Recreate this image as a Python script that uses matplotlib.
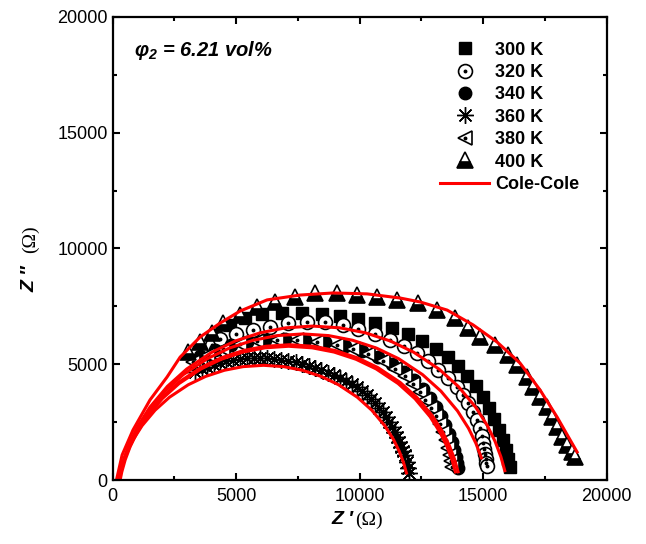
import matplotlib
matplotlib.use('agg')
import matplotlib.pyplot as plt
from matplotlib.legend_handler import HandlerTuple

plt.rcParams['font.family'] = ['Liberation Sans', 'DejaVu Sans']
plt.rcParams['mathtext.fontset'] = 'custom'
plt.rcParams['mathtext.bf'] = 'Liberation Sans:bold:italic'

# measured Z' / Z'' (ohm)
x300 = [4140, 4750, 5360, 6050, 6860, 7670, 8480, 9210, 9930, 10620, 11310, 11960, 12530,
        13090, 13580, 13980, 14350, 14710, 15000, 15240, 15440, 15650, 15810, 15930, 16010, 16090]
y300 = [6260, 6700, 7000, 7170, 7210, 7210, 7170, 7080, 6960, 6780, 6570, 6310, 6000,
        5660, 5310, 4920, 4490, 4060, 3590, 3110, 2640, 2160, 1730, 1300, 910, 560]

x320 = [4020, 4350, 4990, 5680, 6370, 7100, 7870, 8600, 9330, 9930, 10620, 11230, 11800, 12320,
        12770, 13180, 13580, 13940, 14190, 14390, 14590, 14760, 14880, 14960, 15000, 15040,
        15080, 15120, 15120, 15160]
y320 = [5830, 6090, 6310, 6480, 6610, 6780, 6830, 6830, 6700, 6520, 6310, 6050, 5790, 5490,
        5140, 4750, 4410, 4020, 3670, 3330, 2940, 2590, 2250, 1900, 1600, 1340,
        1120, 900, 730, 600]

x340 = [3540, 4140, 4790, 5440, 6170, 6980, 7790, 8600, 9410, 10100, 10740, 11310, 11800,
        12200, 12570, 12850, 13090, 13300, 13460, 13620, 13740, 13820, 13900, 13940, 13980]
y340 = [5360, 5620, 5830, 5960, 6050, 6090, 6050, 5960, 5790, 5570, 5310, 5010, 4670,
        4320, 3930, 3540, 3150, 2760, 2380, 1990, 1640, 1300, 990, 730, 520]

x360 = [3330, 3600, 3820, 4100, 4350, 4600, 4870, 5150, 5440, 5700, 5970, 6250, 6530, 6800,
        7100, 7400, 7670, 7950, 8190, 8450, 8720, 8950, 9210, 9450, 9690, 9900, 10100, 10280,
        10460, 10630, 10790, 10940, 11070, 11200, 11310, 11420, 11510, 11600, 11680, 11760,
        11840, 11920, 11960, 12000]
y360 = [4670, 4790, 4880, 4980, 5050, 5120, 5180, 5230, 5270, 5280, 5270, 5250, 5230, 5190,
        5140, 5080, 5010, 4930, 4840, 4740, 4620, 4520, 4410, 4290, 4150, 4000, 3840, 3670,
        3500, 3310, 3110, 2920, 2720, 2500, 2290, 2080, 1860, 1640, 1430, 1250,
        1080, 780, 520, 300]

x380 = [3250, 3860, 4470, 5160, 5840, 6650, 7460, 8270, 9080, 9730, 10340, 10950, 11430, 11840,
        12160, 12450, 12650, 12890, 13090, 13260, 13380, 13500, 13580, 13660, 13700, 13740]
y380 = [5100, 5400, 5660, 5880, 6000, 6050, 6050, 5960, 5830, 5660, 5440, 5140, 4800, 4490,
        4150, 3800, 3460, 3110, 2770, 2420, 2070, 1730, 1380, 1080, 820, 560]

x400 = [3050, 3540, 4020, 4470, 5160, 5840, 6570, 7380, 8190, 9080, 9890, 10700, 11510, 12360,
        13130, 13860, 14390, 14880, 15480, 16010, 16370, 16780, 17030, 17310, 17590, 17800,
        18000, 18200, 18400, 18600, 18730]
y400 = [5530, 5960, 6350, 6780, 7130, 7470, 7690, 7910, 8080, 8080, 7990, 7910, 7780, 7650,
        7340, 7000, 6570, 6180, 5830, 5400, 4970, 4450, 4020, 3590, 3150, 2720,
        2290, 1860, 1510, 1210, 990]

# Cole-Cole fit curves
fx300 = [250, 329, 485, 721, 1035, 1506, 2213, 2998, 4018, 4960, 5980, 7001, 8100, 9199, 10220,
         11240, 12182, 13203, 13988, 14694, 15165, 15479, 15715, 15872]
fy300 = [0, 405, 1005, 1671, 2354, 3146, 4045, 4798, 5522, 6004, 6362, 6573, 6649, 6573, 6362,
         6004, 5522, 4798, 4045, 3146, 2354, 1671, 1005, 405]
fx320 = [250, 326, 474, 697, 995, 1442, 2113, 2858, 3826, 4720, 5689, 6657, 7700, 8743, 9712,
         10680, 11574, 12543, 13288, 13958, 14405, 14703, 14927]
fy320 = [0, 384, 954, 1586, 2234, 2986, 3839, 4553, 5241, 5698, 6037, 6238, 6310, 6238, 6037,
         5698, 5241, 4553, 3839, 2986, 2234, 1586, 954]
fx340 = [250, 319, 457, 664, 940, 1354, 1975, 2665, 3562, 4390, 5287, 6184, 7150, 8116, 9013,
         9910, 10738, 11635, 12325, 12946, 13360, 13636, 13843, 13981]
fy340 = [0, 356, 883, 1469, 2069, 2766, 3556, 4217, 4854, 5277, 5592, 5777, 5844, 5777, 5592,
         5277, 4854, 4217, 3556, 2766, 2069, 1469, 883, 356]
fx360 = [250, 309, 426, 601, 835, 1186, 1713, 2298, 3058, 3760, 4521, 5281, 6100, 6919, 7680,
         8440, 9142, 9903, 10488, 11014, 11365, 11599, 11775, 11892]
fy360 = [0, 302, 749, 1245, 1754, 2345, 3015, 3576, 4115, 4474, 4741, 4898, 4955, 4898, 4741,
         4474, 4115, 3576, 3015, 2345, 1754, 1245, 749, 302]
fx380 = [300, 368, 505, 709, 982, 1391, 2005, 2687, 3574, 4392, 5279, 6165, 7120, 8075, 8961,
         9848, 10666, 11553, 12235, 12849, 13258, 13531, 13735, 13872]
fy380 = [0, 352, 873, 1452, 2045, 2733, 3514, 4168, 4798, 5216, 5527, 5710, 5777, 5710, 5527,
         5216, 4798, 4168, 3514, 2733, 2045, 1452, 873, 352]
fx400 = [170, 380, 820, 1510, 2200, 2730, 3540, 4350, 5160, 6250, 7590, 8930, 10300, 11640,
         12450, 13540, 14590, 15560, 16490, 17300, 17990, 18520, 18800]
fy400 = [90, 1080, 2160, 3460, 4450, 5310, 6180, 6780, 7300, 7780, 7990, 8080, 8040, 7860,
         7690, 7340, 6700, 5960, 5050, 3890, 2720, 1730, 1210]

fig = plt.figure(figsize=(6.46, 5.44), dpi=100)
ax = fig.add_axes([0.1745, 0.1176, 0.7647, 0.8512])

h300, = ax.plot(x300, y300, 's', ms=8, mfc='black', mec='black', ls='none')
h320a, = ax.plot(x320, y320, 'o', ms=10, mfc='white', mec='black', mew=1.2, ls='none')
h320b, = ax.plot(x320, y320, 'o', ms=1.8, mfc='black', mec='black', ls='none')
h340, = ax.plot(x340, y340, 'o', ms=9, mfc='black', mec='black', ls='none')
h360, = ax.plot(x360, y360, marker=(8, 2, 0), ms=12, mec='black', mew=1.0, ls='none')
h380a, = ax.plot(x380, y380, '<', ms=10, mfc='white', mec='black', mew=1.2, ls='none')
h380b, = ax.plot(x380, y380, 'o', ms=1.8, mfc='black', mec='black', ls='none')
h400, = ax.plot(x400, y400, '^', ms=11, fillstyle='bottom', mfc='black', mfcalt='white',
                mec='black', mew=1.2, ls='none')

for fx, fy in [(fx300, fy300), (fx320, fy320), (fx340, fy340),
               (fx360, fy360), (fx380, fy380), (fx400, fy400)]:
    hfit, = ax.plot(fx, fy, '-', color='red', lw=2.2)

ax.set_xlim(0, 20000)
ax.set_ylim(0, 20000)
ax.set_xticks([0, 5000, 10000, 15000, 20000])
ax.set_yticks([0, 5000, 10000, 15000, 20000])
ax.set_xticks([2500, 7500, 12500, 17500], minor=True)
ax.set_yticks([2500, 7500, 12500, 17500], minor=True)
ax.tick_params(which='both', direction='in', top=True, right=True, width=1.5, labelsize=13)
ax.tick_params(which='major', length=5)
ax.tick_params(which='minor', length=3)
ax.tick_params(axis='x', pad=6)
for s in ax.spines.values():
    s.set_linewidth(1.6)

# axis labels
fig.text(353 / 646, 1 - 520 / 544, 'Z \u2032', ha='right', va='center', fontsize=14,
         fontweight='bold', style='italic')
fig.text(355 / 646, 1 - 520 / 544, '(\u03a9)', ha='left', va='center', fontsize=14,
         family=['Liberation Serif', 'DejaVu Serif'])
fig.text(30 / 646, 1 - 292 / 544, 'Z \u2033', ha='center', va='bottom', rotation=90,
         fontsize=14, fontweight='bold', style='italic')
fig.text(30 / 646, 1 - 253 / 544, '(\u03a9)', ha='center', va='bottom', rotation=90,
         fontsize=14, family=['Liberation Serif', 'DejaVu Serif'])

ax.text(0.043, 0.928, '$\\mathbf{\u03c6}_\\mathbf{2}$' + ' = 6.21 vol%', transform=ax.transAxes,
        fontsize=14.5, fontweight='bold', style='italic', va='center')

handles = [h300, (h320a, h320b), h340, h360, (h380a, h380b), h400, hfit]
labels = ['300 K', '320 K', '340 K', '360 K', '380 K', '400 K', 'Cole-Cole']
ax.legend(handles, labels, loc='upper left', bbox_to_anchor=(0.662, 0.947), frameon=False,
          borderpad=0, borderaxespad=0, handlelength=2.75, handletextpad=0.3,
          labelspacing=0.3, prop={'weight': 'bold', 'size': 13},
          handler_map={tuple: HandlerTuple(ndivide=1, pad=0)})

fig.savefig('out.png', dpi=100)
